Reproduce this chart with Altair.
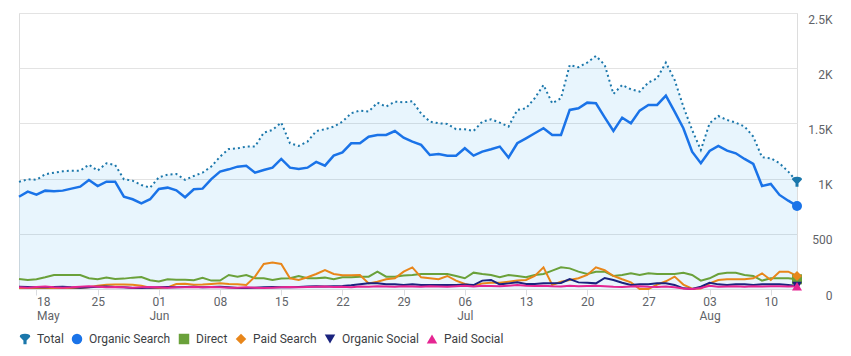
import altair as alt
import pandas as pd

# ---- data ----
dates = [d.strftime("%Y-%m-%d") for d in pd.date_range("2025-05-16", "2025-08-13", freq="D")]

total = [970, 994, 990, 1039, 1054, 1066, 1072, 1072, 1126, 1072,
         1139, 1123, 994, 981, 942, 918, 1012, 1036, 1042, 988,
         1024, 1054, 1110, 1199, 1268, 1274, 1290, 1290, 1416, 1441,
         1507, 1320, 1296, 1335, 1431, 1447, 1471, 1516, 1592, 1616,
         1607, 1688, 1652, 1697, 1691, 1700, 1590, 1516, 1501, 1495,
         1447, 1447, 1431, 1516, 1537, 1507, 1471, 1622, 1637, 1728,
         1848, 1682, 1728, 2029, 2009, 2051, 2111, 2030, 1767, 1848,
         1809, 1788, 1870, 1909, 2051, 1894, 1652, 1441, 1259, 1501,
         1567, 1531, 1507, 1471, 1380, 1193, 1184, 1139, 1063, 972]

organic_search = [836, 882, 855, 891, 885, 891, 909, 927, 988, 933,
                  972, 972, 836, 813, 776, 813, 906, 918, 894, 831,
                  903, 909, 995, 1063, 1084, 1108, 1117, 1054, 1078, 1099,
                  1178, 1099, 1087, 1099, 1151, 1117, 1208, 1238, 1320, 1320,
                  1380, 1395, 1395, 1431, 1370, 1335, 1305, 1214, 1223, 1208,
                  1208, 1275, 1208, 1244, 1266, 1290, 1190, 1320, 1365, 1411,
                  1456, 1395, 1395, 1622, 1637, 1688, 1682, 1555, 1431, 1552,
                  1501, 1616, 1667, 1667, 1751, 1607, 1456, 1244, 1139, 1250,
                  1296, 1253, 1229, 1178, 1133, 933, 951, 852, 800, 752]

direct = [91, 82, 88, 106, 127, 127, 127, 127, 97, 88,
          103, 90, 94, 103, 108, 80, 68, 88, 84, 84,
          80, 102, 76, 76, 127, 112, 127, 97, 97, 82,
          94, 97, 118, 97, 97, 103, 88, 106, 106, 112,
          112, 157, 112, 112, 122, 127, 136, 136, 136, 136,
          118, 97, 148, 136, 127, 106, 127, 118, 106, 127,
          136, 166, 196, 187, 157, 136, 157, 157, 118, 127,
          142, 127, 142, 136, 136, 136, 148, 127, 76, 97,
          136, 148, 148, 127, 118, 76, 97, 97, 97, 88]

paid_search = [10, 12, 8, 10, 12, 10, 8, 10, 15, 30,
               38, 40, 40, 38, 30, 12, 10, 15, 45, 48,
               38, 40, 45, 51, 45, 42, 36, 112, 227, 239,
               227, 97, 82, 106, 136, 172, 136, 124, 124, 127,
               51, 66, 88, 97, 157, 196, 106, 97, 88, 118,
               76, 45, 27, 51, 57, 57, 66, 76, 82, 118,
               196, 36, 66, 82, 97, 127, 196, 170, 118, 88,
               60, 0, 0, 40, 70, 112, 40, 3, 5, 51,
               82, 88, 88, 88, 97, 142, 82, 157, 157, 118]

organic_social = [20, 18, 15, 15, 18, 20, 15, 12, 15, 20,
                  22, 18, 15, 10, 8, 12, 15, 18, 15, 18,
                  20, 15, 18, 20, 15, 10, 8, 12, 15, 18,
                  15, 15, 18, 22, 25, 22, 25, 27, 33, 42,
                  51, 51, 42, 42, 36, 42, 36, 36, 36, 36,
                  36, 40, 36, 76, 82, 42, 51, 60, 45, 45,
                  51, 51, 55, 90, 60, 57, 51, 100, 82, 57,
                  36, 42, 42, 51, 51, 36, 6, 0, 21, 57,
                  42, 36, 42, 42, 36, 42, 42, 42, 36, 27]

paid_social = [15, 12, 18, 22, 15, 12, 15, 20, 25, 20,
               15, 18, 15, 12, 15, 18, 15, 12, 15, 15,
               18, 15, 18, 15, 12, 12, 15, 12, 10, 12,
               15, 18, 15, 18, 20, 22, 18, 20, 15, 22,
               20, 25, 22, 20, 25, 22, 20, 25, 22, 20,
               25, 30, 22, 30, 27, 25, 30, 36, 30, 27,
               30, 25, 22, 30, 25, 27, 30, 25, 20, 18,
               22, 25, 20, 18, 22, 15, 5, 0, 10, 30,
               20, 22, 25, 20, 25, 22, 25, 25, 22, 25]

series_names = ["Total", "Organic Search", "Direct", "Paid Search", "Organic Social", "Paid Social"]
series_values = [total, organic_search, direct, paid_search, organic_social, paid_social]
series_colors = ["#1b77ab", "#1a73e8", "#6aa13a", "#e8861a", "#1a237e", "#e52592"]
funnel = "M-1,-0.45 Q-1,-1 0,-1 Q1,-1 1,-0.45 L0.3,0.3 L0.3,1 L-0.3,1 L-0.3,0.3 Z"
series_shapes = [funnel, "circle", "square", "diamond", "triangle-down", "triangle-up"]

x_tick_dates = [(2025, 5, 18), (2025, 5, 25), (2025, 6, 1), (2025, 6, 8), (2025, 6, 15),
                (2025, 6, 22), (2025, 6, 29), (2025, 7, 6), (2025, 7, 13), (2025, 7, 20),
                (2025, 7, 27), (2025, 8, 3), (2025, 8, 10)]
y_ticks = [0, 500, 1000, 1500, 2000, 2500]

# ---- tables ----
rows = []
for name, vals in zip(series_names, series_values):
    for d, v in zip(dates, vals):
        rows.append({"date": d, "series": name, "value": v})
df = pd.DataFrame(rows)
ends = pd.DataFrame([{"date": dates[-1], "series": n, "value": v[-1]}
                     for n, v in zip(series_names, series_values)])

FONT = "Roboto"

x_enc = alt.X(
    "date:T",
    scale=alt.Scale(type="utc"),
    axis=alt.Axis(
        title=None,
        values=[alt.DateTime(year=y, month=m, date=d, utc=True) for y, m, d in x_tick_dates],
        labelExpr="[utcFormat(datum.value, '%d'), (datum.index == 0 || utcdate(datum.value) <= 7) ? utcFormat(datum.value, '%b') : '']",
        labelAlign={"condition": {"test": "datum.index == 0", "value": "left"}, "value": "center"},
        labelFont=FONT, labelFontSize=12, labelColor="#5f6368",
        labelLineHeight=14, labelPadding=1,
        tickSize=6, tickColor="#dadce0", domainColor="#dadce0",
        grid=False,
    ),
)
y_enc = alt.Y(
    "value:Q",
    scale=alt.Scale(domain=[0, 2500], nice=False),
    axis=alt.Axis(
        title=None, orient="right", values=y_ticks,
        labelExpr="datum.value >= 1000 ? format(datum.value / 1000, '~g') + 'K' : format(datum.value, 'd')",
        labelAlign="right", labelBaseline="top", labelOffset=1, labelPadding=35,
        labelFont=FONT, labelFontSize=12, labelColor="#5f6368",
        ticks=False, tickSize=0, domain=False,
        gridColor="#e3e3e3",
    ),
)

base = alt.Chart(df)

area = base.transform_filter(alt.datum.series == "Total").mark_area(
    color="#1a9bf0", opacity=0.1
).encode(x=x_enc, y=y_enc)

# one line layer per series, drawn low series first, then Organic Search, then Total
line_style = {
    "Total": dict(strokeWidth=2, strokeDash=[2, 3]),
    "Organic Search": dict(strokeWidth=2.5),
}
draw_order = ["Direct", "Paid Search", "Organic Social", "Paid Social", "Organic Search", "Total"]
line_layers = []
for name in draw_order:
    col = series_colors[series_names.index(name)]
    style = line_style.get(name, dict(strokeWidth=2))
    line_layers.append(
        base.transform_filter(alt.datum.series == name)
        .mark_line(color=col, **style)
        .encode(x=x_enc, y=y_enc)
    )

legend = alt.Legend(title=None, orient="none", legendX=0, legendY=320,
                    direction="horizontal", padding=0,
                    labelFont=FONT, labelFontSize=12, labelColor="#3c4043",
                    symbolSize=110, symbolStrokeWidth=0, symbolOpacity=1,
                    labelOffset=6, columnPadding=7)

end_points = alt.Chart(ends).mark_point(filled=True, opacity=1, size=100).encode(
    x=x_enc, y=y_enc,
    fill=alt.Fill("series:N", scale=alt.Scale(domain=series_names, range=series_colors),
                  sort=series_names, legend=legend),
    shape=alt.Shape("series:N", scale=alt.Scale(domain=series_names, range=series_shapes),
                    sort=series_names, legend=legend),
)

chart = alt.layer(area, *line_layers, end_points).properties(
    width=778, height=276,
    padding={"left": 11, "top": 5, "right": 46, "bottom": 59},
    autosize=alt.AutoSizeParams(type="none"),
).configure_view(stroke=None).configure(font=FONT)

chart.save("out.html", embed_options={"renderer": "svg", "actions": False})
